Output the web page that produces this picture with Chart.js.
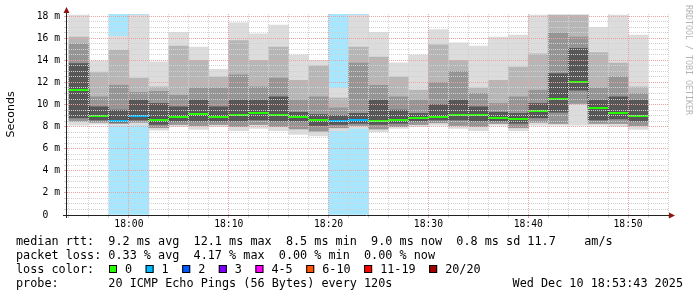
<!DOCTYPE html>
<html lang="en">
<head>
<meta charset="UTF-8">
<title>SmokePing latency</title>
<script src="https://cdn.jsdelivr.net/npm/chart.js@4/dist/chart.umd.min.js"></script>
<style>
  html, body { margin: 0; padding: 0; background: #fff; }
  canvas { display: block; }
</style>
</head>
<body>
<canvas id="chart" width="697" height="297"></canvas>
<script>
// time slots, minutes since midnight (17:54 .. 18:50), each 2 minutes long
const slotStart = [1074, 1076, 1078, 1080, 1082, 1084, 1086, 1088, 1090, 1092, 1094, 1096, 1098, 1100, 1102,
  1104, 1106, 1108, 1110, 1112, 1114, 1116, 1118, 1120, 1122, 1124, 1126, 1128, 1130];
const slotMinutes = 2;

// rtt in ms
const medianRtt = [11.3, 9.0, 8.53, 8.95, 8.62, 8.9, 9.14, 8.9, 9.07, 9.25, 9.07, 8.9, 8.62, 8.53, 8.62,
  8.53, 8.62, 8.8, 8.9, 9.07, 9.07, 8.8, 8.71, 9.43, 10.49, 12.06, 9.7, 9.25, 8.98];
const pingMax = [18.1, 13.96, 16.2, 18.1, 13.87, 16.55, 15.2, 13.2, 17.4, 16.4, 17.2, 14.5, 14.0, 11.46, 18.1,
  16.55, 13.78, 14.5, 16.8, 15.6, 15.3, 16.1, 16.3, 18.1, 18.1, 18.1, 17.0, 18.1, 16.3];
const pingMin = [8.14, 8.23, 8.14, 8.14, 7.69, 7.99, 7.75, 7.99, 7.63, 7.84, 7.63, 7.3, 7.17, 7.63, 7.84,
  7.54, 7.84, 7.99, 8.14, 7.84, 7.63, 8.14, 7.63, 8.14, 8.14, 8.14, 8.14, 7.99, 7.75];
// smoke layers (outer to inner)
const upper1 = [16.1, 12.9, 14.9, 12.4, 11.6, 15.3, 14.0, 12.5, 15.8, 14.0, 15.2, 12.2, 13.5, 10.6, 15.2,
  14.3, 12.5, 11.3, 15.4, 14.0, 11.5, 12.2, 13.4, 14.6, 18.1, 18.1, 14.7, 13.75, 11.6];
const upper2 = [15.5, 10.7, 11.75, 11.1, 11.2, 10.85, 11.5, 11.5, 12.7, 11.6, 12.4, 10.4, 10.7, 9.7, 13.75,
  11.75, 10.7, 10.4, 12.0, 13.0, 11.0, 10.1, 10.7, 11.3, 16.5, 16.1, 11.5, 12.5, 11.0];
const upper3 = [13.7, 9.8, 9.5, 10.4, 10.1, 9.8, 10.4, 9.8, 10.4, 10.4, 10.7, 9.3, 9.1, 9.0, 9.2,
  10.4, 9.5, 9.2, 10.0, 10.4, 9.8, 9.3, 9.2, 10.1, 12.8, 15.1, 10.4, 10.7, 10.4];
const lower3 = [8.8, 8.6, 8.4, 8.6, 8.2, 8.5, 8.5, 8.5, 8.5, 8.6, 8.5, 8.5, 8.1, 8.2, 8.3,
  8.2, 8.3, 8.5, 8.6, 8.6, 8.5, 8.5, 8.3, 8.8, 9.3, 11.3, 8.6, 8.7, 8.5];
const lower1 = [8.5, 8.4, 8.3, 8.4, 7.9, 8.2, 8.1, 8.2, 8.0, 8.2, 8.0, 7.8, 7.6, 7.9, 8.1,
  7.8, 8.0, 8.2, 8.35, 8.1, 8.0, 8.3, 7.9, 8.4, 8.3, 10.1, 8.3, 8.3, 8.1];
// lost pings out of 20 per slot
const lossCount = [0, 0, 1, 1, 0, 0, 0, 0, 0, 0, 0, 0, 0, 1, 1,
  0, 0, 0, 0, 0, 0, 0, 0, 0, 0, 0, 0, 0, 0];

const timeTickValues = [1080, 1090, 1100, 1110, 1120, 1130];
const timeTickLabels = ['18:00', '18:10', '18:20', '18:30', '18:40', '18:50'];
const yTickValues = [0, 2, 4, 6, 8, 10, 12, 14, 16, 18];
const yTickLabels = ['0  ', '2 m', '4 m', '6 m', '8 m', '10 m', '12 m', '14 m', '16 m', '18 m'];

const lossLegend = ['0', '1', '2', '3', '4-5', '6-10', '11-19', '20/20'];
const lossColors = ['#26ff00', '#00b8ff', '#0059ff', '#7e00ff', '#ff00ff', '#ff5500', '#ff0000', '#a10000'];

const statLines = [
  'median rtt:  9.2 ms avg  12.1 ms max  8.5 ms min  9.0 ms now  0.8 ms sd 11.7    am/s',
  'packet loss: 0.33 % avg  4.17 % max  0.00 % min  0.00 % now',
  'loss color:',
  'probe:       20 ICMP Echo Pings (56 Bytes) every 120s'
];
const stamp = 'Wed Dec 10 18:53:43 2025';

const X_MIN = 1073.8, X_MAX = 1134, Y_MAX = 18.2;
const MONO = "'DejaVu Sans Mono', monospace";

function lossBucket(n) {
  if (n <= 3) return n;
  if (n <= 5) return 4;
  if (n <= 10) return 5;
  if (n <= 19) return 6;
  return 7;
}

function band(lo, hi) {
  return slotStart.map((s, i) => ({ x: s + slotMinutes / 2, y: [lo[i], hi[i]] }));
}

const lossBg = slotStart
  .map((s, i) => ({ x: s + slotMinutes / 2, y: [0, Y_MAX], n: lossCount[i] }))
  .filter((d) => d.n > 0);

const medianSteps = slotStart.map((s, i) => ({ x: s, y: medianRtt[i] }));
medianSteps.push({ x: slotStart[slotStart.length - 1] + slotMinutes, y: medianRtt[medianRtt.length - 1] });

const decor = {
  id: 'decor',
  afterDatasetsDraw(chart) {
    const { ctx, scales: { x, y } } = chart;
    ctx.save();
    ctx.lineWidth = 2;
    medianRtt.forEach((m, i) => {
      const x1 = x.getPixelForValue(slotStart[i]);
      const x2 = x.getPixelForValue(slotStart[i] + slotMinutes);
      const py = Math.round(y.getPixelForValue(m));
      ctx.strokeStyle = lossColors[lossBucket(lossCount[i])];
      ctx.beginPath();
      ctx.moveTo(x1, py);
      ctx.lineTo(x2, py);
      ctx.stroke();
    });
    ctx.restore();
  },
  afterDraw(chart) {
    const { ctx, chartArea: a } = chart;
    ctx.save();
    // axes + arrows
    ctx.strokeStyle = '#222';
    ctx.lineWidth = 1;
    ctx.beginPath();
    ctx.moveTo(a.left - 0.5, a.bottom + 3);
    ctx.lineTo(a.left - 0.5, a.top - 4);
    ctx.moveTo(a.left - 4, a.bottom + 0.5);
    ctx.lineTo(a.right + 2, a.bottom + 0.5);
    ctx.stroke();
    ctx.fillStyle = '#8e1414';
    ctx.beginPath();
    ctx.moveTo(a.left - 0.5, a.top - 7);
    ctx.lineTo(a.left - 3.5, a.top - 1);
    ctx.lineTo(a.left + 2.5, a.top - 1);
    ctx.fill();
    ctx.beginPath();
    ctx.moveTo(a.right + 7, a.bottom + 0.5);
    ctx.lineTo(a.right + 1, a.bottom - 2.5);
    ctx.lineTo(a.right + 1, a.bottom + 3.5);
    ctx.fill();

    // y axis title
    ctx.fillStyle = '#000';
    ctx.font = "11px 'DejaVu Sans', sans-serif";
    ctx.textAlign = 'center';
    ctx.textBaseline = 'middle';
    ctx.save();
    ctx.translate(11, (a.top + a.bottom) / 2);
    ctx.rotate(-Math.PI / 2);
    ctx.fillText('Seconds', 0, 0);
    ctx.restore();

    // watermark
    ctx.save();
    ctx.fillStyle = '#b4b4b4';
    ctx.font = '8.3px ' + MONO;
    ctx.textAlign = 'left';
    ctx.translate(688, 5);
    ctx.rotate(Math.PI / 2);
    ctx.fillText('RRDTOOL / TOBI OETIKER', 0, 0);
    ctx.restore();

    // legend / stats
    ctx.font = '11.8px ' + MONO;
    ctx.textAlign = 'left';
    ctx.textBaseline = 'alphabetic';
    ctx.fillStyle = '#000';
    const base = [245, 259, 273, 287];
    statLines.forEach((t, i) => ctx.fillText(t, 16, base[i]));
    ctx.textAlign = 'right';
    ctx.fillText(stamp, 683, base[3]);
    ctx.textAlign = 'left';

    let lx = 109;
    lossLegend.forEach((lab, i) => {
      ctx.fillStyle = lossColors[i];
      ctx.fillRect(lx, base[2] - 8, 8, 8);
      ctx.strokeStyle = '#000';
      ctx.strokeRect(lx + 0.5, base[2] - 7.5, 7, 7);
      ctx.fillStyle = '#000';
      ctx.fillText(lab, lx + 16, base[2]);
      lx += 16 + ctx.measureText(lab).width + 13.5;
    });
    ctx.restore();
  }
};

const gridMajor = '#eba4a4';
const gridMinor = '#d2d2d2';

new Chart(document.getElementById('chart'), {
  type: 'bar',
  data: {
    datasets: [
      { type: 'line', data: medianSteps, stepped: true, borderColor: '#000', borderWidth: 1,
        borderDash: [1, 1], pointRadius: 0, fill: false, order: 1 },
      { data: band(lower3, upper3), backgroundColor: '#575757', order: 2 },
      { data: band(lower1, upper2), backgroundColor: '#959595', order: 3 },
      { data: band(lower1, upper1), backgroundColor: '#b6b6b6', order: 4 },
      { data: band(pingMin, pingMax), backgroundColor: '#dcdcdc', order: 5 },
      { data: lossBg, backgroundColor: '#a6e6ff', order: 6 }
    ]
  },
  options: {
    responsive: false,
    animation: false,
    events: [],
    layout: { padding: { top: 14, right: 29, left: 0, bottom: 0 } },
    datasets: { bar: { grouped: false, barPercentage: 1, categoryPercentage: 1, borderWidth: 0 } },
    plugins: { legend: { display: false }, tooltip: { enabled: false } },
    scales: {
      x: {
        type: 'linear',
        min: X_MIN,
        max: X_MAX,
        offset: false,
        afterFit: (s) => { s.height = 82; },
        afterBuildTicks: (s) => {
          const t = [];
          for (let v = slotStart[0]; v <= X_MAX; v += slotMinutes) t.push({ value: v });
          s.ticks = t;
        },
        grid: {
          offset: false,
          z: 1,
          tickLength: 3,
          color: (c) => (c.tick && timeTickValues.includes(c.tick.value) ? gridMajor : gridMinor)
        },
        border: { display: false, dash: [1, 1] },
        ticks: {
          autoSkip: false,
          maxRotation: 0,
          padding: 1,
          color: '#000',
          font: { family: MONO, size: 9.7 },
          callback: (v) => {
            const k = timeTickValues.indexOf(v);
            return k >= 0 ? timeTickLabels[k] : '';
          }
        }
      },
      y: {
        min: 0,
        max: Y_MAX,
        afterFit: (s) => { s.width = 67; },
        afterBuildTicks: (s) => {
          const t = [];
          for (let v = 0; v <= 18; v += 0.5) t.push({ value: v });
          s.ticks = t;
        },
        grid: {
          z: 1,
          tickLength: 3,
          color: (c) => (c.tick && yTickValues.includes(c.tick.value) ? gridMajor : gridMinor)
        },
        border: { display: false, dash: [1, 1] },
        ticks: {
          autoSkip: false,
          padding: 4,
          color: '#000',
          font: { family: MONO, size: 9.7 },
          callback: (v) => {
            const k = yTickValues.indexOf(v);
            return k >= 0 ? yTickLabels[k] : '';
          }
        }
      }
    }
  },
  plugins: [decor]
});
</script>
</body>
</html>
